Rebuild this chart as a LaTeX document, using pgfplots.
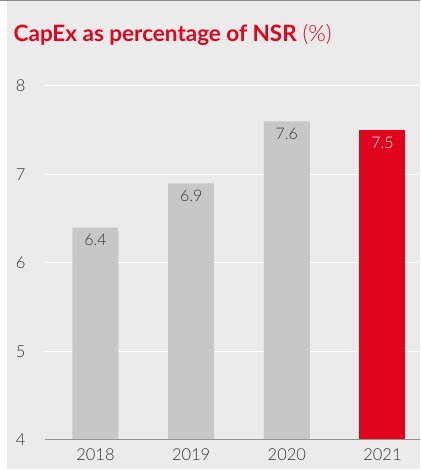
\documentclass[border=0pt]{standalone}
\usepackage{pgfplots}
\pgfplotsset{compat=1.18}
\usepackage{fontspec}
\setmainfont{Lato}
\newfontfamily\light{Lato Light}
\definecolor{bg}{HTML}{EBEBEB}
\definecolor{barg}{HTML}{C6C7C6}
\definecolor{barr}{HTML}{E0051C}
\definecolor{txt}{HTML}{333333}
\begin{document}
\begin{tikzpicture}[x=1pt,y=1pt]
\path[fill=white] (0,0) rectangle (419,470);
\fill[bg] (6,1) rectangle (419,469);
\draw[color=gray!90, line width=1pt] (0,469.5) -- (419,469.5);
\node[anchor=base west, inner sep=0pt, text=barr, font=\fontsize{22.5}{26}\selectfont] at (13,428) {\textbf{CapEx as percentage of NSR} {\light(\%)}};
\begin{axis}[
  at={(44pt,30pt)}, anchor=south west,
  scale only axis, width=375pt, height=354pt,
  xmin=-0.533, xmax=3.387, ymin=4, ymax=8,
  axis line style={draw=none},
  xtick={0,1,2,3}, xticklabels={2018,2019,2020,2021},
  ytick={4,5,6,7,8},
  major tick length=0pt,
  ymajorgrids, grid style={white, line width=1pt},
  tick label style={font=\light\fontsize{16.5}{19}\selectfont, text=txt},
  /pgf/number format/assume math mode=true,
  yticklabel style={xshift=-15.5pt},
  xticklabel style={yshift=-5pt},
  ybar, bar width=46pt, bar shift=0pt,
  nodes near coords,
  nodes near coords style={font=\light\fontsize{16}{19}\selectfont, anchor=north, yshift=-3pt},
  point meta=explicit symbolic,
  clip=false,
]
\addplot[fill=barg, draw=none, nodes near coords style={text=txt}] coordinates {(0,6.4) [6.4] (1,6.9) [6.9] (2,7.6) [7.6]};
\addplot[fill=barr, draw=none, nodes near coords style={text=white}] coordinates {(3,7.5) [7.5]};
\draw[color=gray!85, line width=1pt] (rel axis cs:0,0) -- (rel axis cs:1,0);
\end{axis}
\end{tikzpicture}
\end{document}
